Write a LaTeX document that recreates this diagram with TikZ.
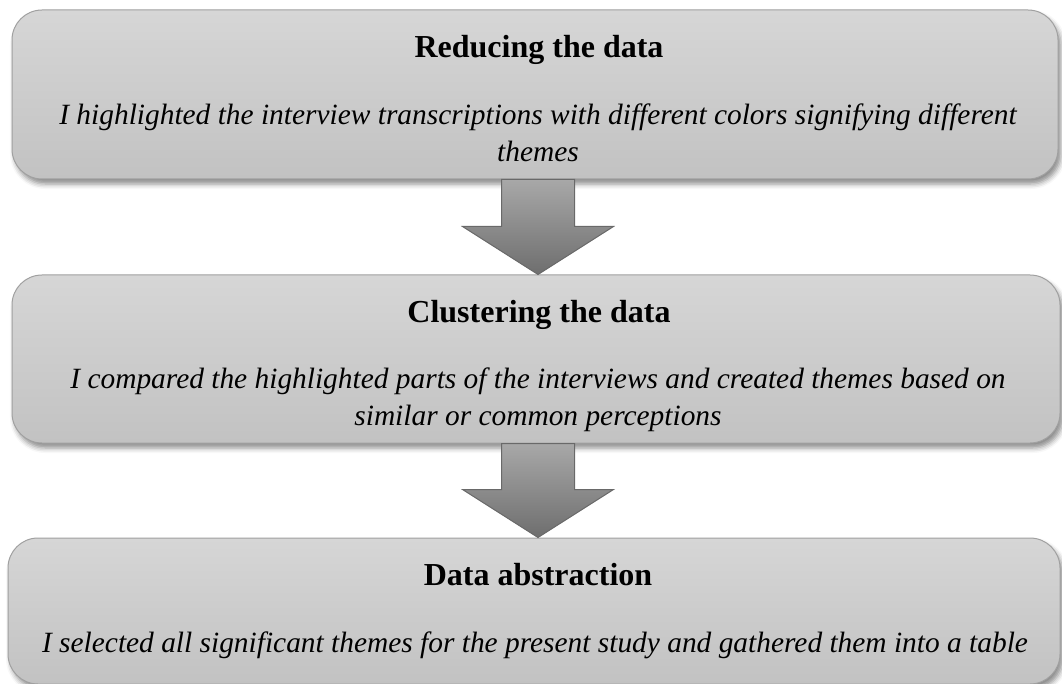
\documentclass[tikz,border=0pt]{standalone}
\usepackage{fontspec}
\setmainfont{Liberation Serif}
\usetikzlibrary{shadows.blur,calc}
\definecolor{boxtop}{RGB}{214,214,214}
\definecolor{boxbot}{RGB}{194,194,194}
\definecolor{boxedge}{RGB}{160,160,160}
\definecolor{arrtop}{RGB}{168,168,168}
\definecolor{arrbot}{RGB}{110,110,110}
\definecolor{arredge}{RGB}{105,105,105}
\tikzset{
  stagebox/.style={draw=boxedge, line width=1pt, rounded corners=30pt,
    top color=boxtop, bottom color=boxbot, inner sep=0pt,
    blur shadow={shadow xshift=3pt, shadow yshift=-5pt, shadow blur radius=5pt, shadow opacity=45}},
  titletext/.style={anchor=base, inner sep=0pt, font=\fontsize{32}{38}\selectfont\bfseries},
  bodytext/.style={anchor=base, inner sep=0pt, font=\fontsize{29.4}{36}\selectfont\itshape},
  downarrow/.style={draw=arredge, line width=1pt, top color=arrtop, bottom color=arrbot}
}
\begin{document}
\begin{tikzpicture}[x=1pt,y=-1pt]
\useasboundingbox (0,0) rectangle (1062,684);
% boxes
\node[stagebox, minimum width=1046pt, minimum height=169pt] (b1) at (535,94.5) {};
\node[stagebox, minimum width=1048pt, minimum height=168pt] (b2) at (536,359) {};
\node[stagebox, minimum width=1052pt, minimum height=146pt] (b3) at (534,611) {};
% arrows
\foreach \s/\t in {b1/b2, b2/b3}{
  \path let \p1=(\s.south), \p2=(\t.north) in
    [downarrow] (538-36.5,\y1) -- (538+36.5,\y1) -- (538+36.5,\y2+48) -- (538+75.5,\y2+48)
    -- (538,\y2) -- (538-75.5,\y2+48) -- (538-36.5,\y2+48) -- cycle;
}
% texts
\node[titletext] (t1) at (539,58) {Reducing the data};
\node[bodytext] (d1a) at (538,125) {I highlighted the interview transcriptions with different colors signifying different};
\node[bodytext] (d1b) at (538,162) {themes};
\node[titletext] (t2) at (539,323) {Clustering the data};
\node[bodytext] (d2a) at (538,388) {I compared the highlighted parts of the interviews and created themes based on};
\node[bodytext] (d2b) at (538,425) {similar or common perceptions};
\node[titletext] (t3) at (538,585) {Data abstraction};
\node[bodytext] (d3a) at (535,652) {I selected all significant themes for the present study and gathered them into a table};
\end{tikzpicture}
\end{document}
